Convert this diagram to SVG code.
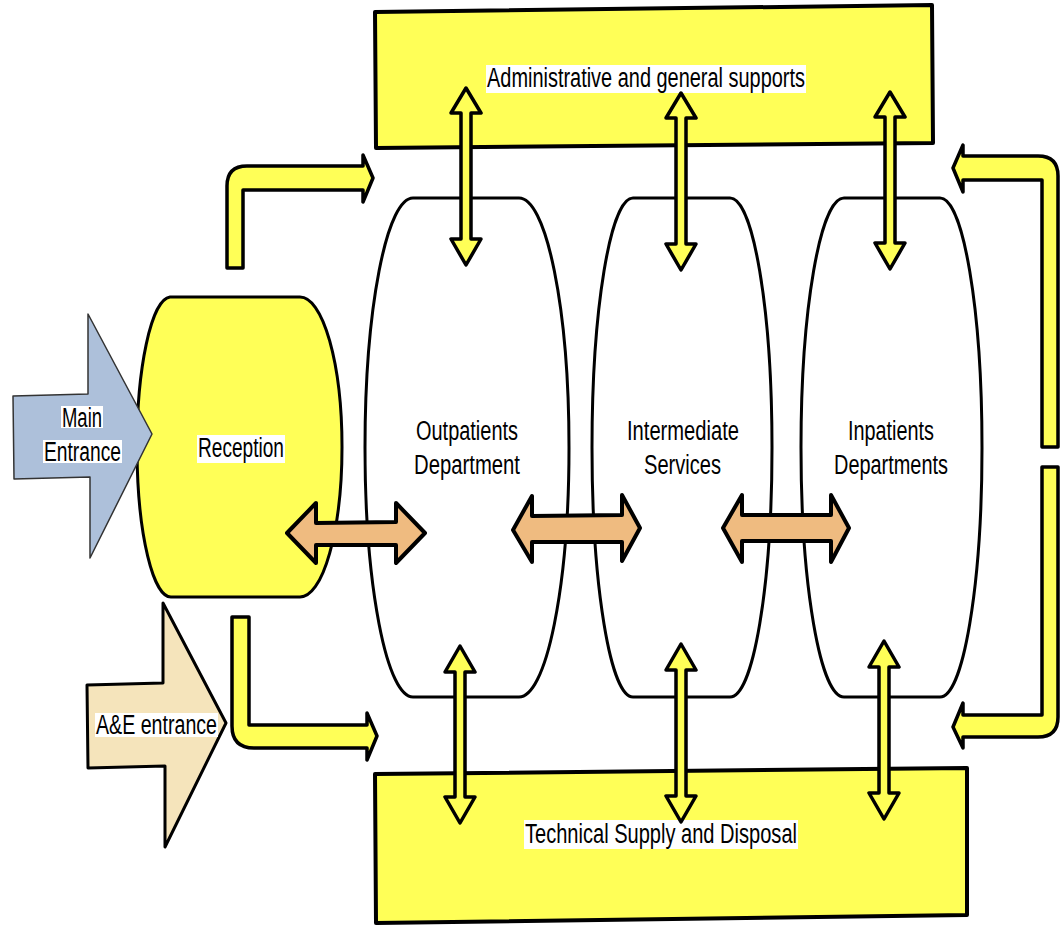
<svg xmlns="http://www.w3.org/2000/svg" width="1061" height="926" viewBox="0 0 1061 926">
<style>
.box{fill:#ffff57;stroke:#000;stroke-width:4;stroke-linejoin:round}
.dept{fill:#fff;stroke:#000;stroke-width:3}
.y{fill:#ffff57;stroke:#000;stroke-width:3.5;stroke-linejoin:round}
.o{fill:#efbb80;stroke:#000;stroke-width:4;stroke-linejoin:round}
.t{font-family:"Liberation Sans",Arial,sans-serif;font-size:27px;fill:#000}
.bg{fill:#fff}
</style>
<rect width="1061" height="926" fill="#fff"/>
<g id="admin">
<polygon class="box" points="375,12 932,5 933,143 376,148"/>
<rect class="bg" x="486" y="65" width="320" height="28"/>
<text class="t" x="487" y="87" textLength="318" lengthAdjust="spacingAndGlyphs">Administrative and general supports</text>
</g>
<g id="technical">
<polygon class="box" points="375,774 967,768 967,915 376,923"/>
<rect class="bg" x="524" y="820" width="274" height="29"/>
<text class="t" x="525" y="843" textLength="272" lengthAdjust="spacingAndGlyphs">Technical Supply and Disposal</text>
</g>
<g id="reception">
<path class="box" style="stroke-width:3" d="M 170 297 H 300 A 42 150 0 0 1 300 597 H 172 A 34 150 0 0 1 170 297 Z"/>
<rect class="bg" x="197" y="435" width="88" height="28"/>
<text class="t" x="198" y="457" textLength="86" lengthAdjust="spacingAndGlyphs">Reception</text>
</g>
<g id="main-entrance">
<polygon points="13,396 88,394 88,314 152,434 90,558 90,477 14,479" fill="#adc0da" stroke="#333" stroke-width="1.5" stroke-linejoin="round"/>
<rect class="bg" x="61" y="406" width="42" height="22"/>
<text class="t" x="62" y="427" textLength="40" lengthAdjust="spacingAndGlyphs">Main</text>
<rect class="bg" x="43" y="440" width="79" height="23"/>
<text class="t" x="44" y="461" textLength="77" lengthAdjust="spacingAndGlyphs">Entrance</text>
</g>
<g id="ae-entrance">
<polygon points="87,685 163,683 163,603 226,723 165,847 165,766 88,768" fill="#f5e4bb" stroke="#000" stroke-width="3" stroke-linejoin="round"/>
<rect class="bg" x="95" y="713" width="123" height="24"/>
<text class="t" x="96" y="734" textLength="121" lengthAdjust="spacingAndGlyphs">A&amp;E entrance</text>
</g>
<g id="outpatients">
<path class="dept" d="M 413 198 H 519 A 50 249.5 0 0 1 519 697 H 413 A 48 249.5 0 0 1 413 198 Z"/>
<text class="t" x="416" y="440" textLength="102" lengthAdjust="spacingAndGlyphs">Outpatients</text>
<text class="t" x="414" y="474" textLength="106" lengthAdjust="spacingAndGlyphs">Department</text>
</g>
<g id="intermediate">
<path class="dept" d="M 633 198 H 730 A 42 249.5 0 0 1 730 697 H 633 A 41 249.5 0 0 1 633 198 Z"/>
<text class="t" x="627" y="440" textLength="112" lengthAdjust="spacingAndGlyphs">Intermediate</text>
<text class="t" x="644" y="474" textLength="77" lengthAdjust="spacingAndGlyphs">Services</text>
</g>
<g id="inpatients">
<path class="dept" d="M 844 198 H 940 A 42 249.5 0 0 1 940 697 H 844 A 43 249.5 0 0 1 844 198 Z"/>
<text class="t" x="848" y="440" textLength="86" lengthAdjust="spacingAndGlyphs">Inpatients</text>
<text class="t" x="834" y="474" textLength="114" lengthAdjust="spacingAndGlyphs">Departments</text>
</g>
<g id="connectors">
<path class="y" d="M 227 268 V 186 Q 227 166 247 166 H 363 V 155 L 373 178 L 363 202 V 190 H 243 V 268 Z"/>
<path class="y" d="M 232 617 H 249 V 725 H 367 V 713 L 377 736 L 367 760 V 748 H 254 Q 232 748 232 726 Z"/>
<path class="y" d="M 1042 447 V 180 H 963 V 192 L 953 168 L 963 145 V 156 H 1038 Q 1058 156 1058 176 V 447 Z"/>
<path class="y" d="M 1042 467 H 1058 V 717 Q 1058 737 1038 737 H 963 V 748 L 953 727 L 963 703 V 715 H 1042 Z"/>
<polygon class="y" points="466,88 481,113 471,113 471,239 481,239 466,265 451,239 461,239 461,113 451,113"/>
<polygon class="y" points="681,93 696,118 686,118 686,244 696,244 681,270 666,244 676,244 676,118 666,118"/>
<polygon class="y" points="890,92 905,117 895,117 895,243 905,243 890,269 875,243 885,243 885,117 875,117"/>
<polygon class="y" points="460,646 475,672 465,672 465,797 475,797 460,823 445,797 455,797 455,672 445,672"/>
<polygon class="y" points="681,644 696,670 686,670 686,796 696,796 681,822 666,796 676,796 676,670 666,670"/>
<polygon class="y" points="884,641 899,667 889,667 889,793 899,793 884,819 869,793 879,793 879,667 869,667"/>
<polygon class="o" points="287,533 316,503 316,523 396,522 396,503 425,533 396,563 396,545 316,545 316,563"/>
<polygon class="o" points="513,530 532,496 532,516 622,515 622,495 640,528 622,561 622,542 532,542 532,562"/>
<polygon class="o" points="723,528 742,495 742,515 831,515 831,495 849,528 831,562 831,541 742,541 742,562"/>
</g>
</svg>
